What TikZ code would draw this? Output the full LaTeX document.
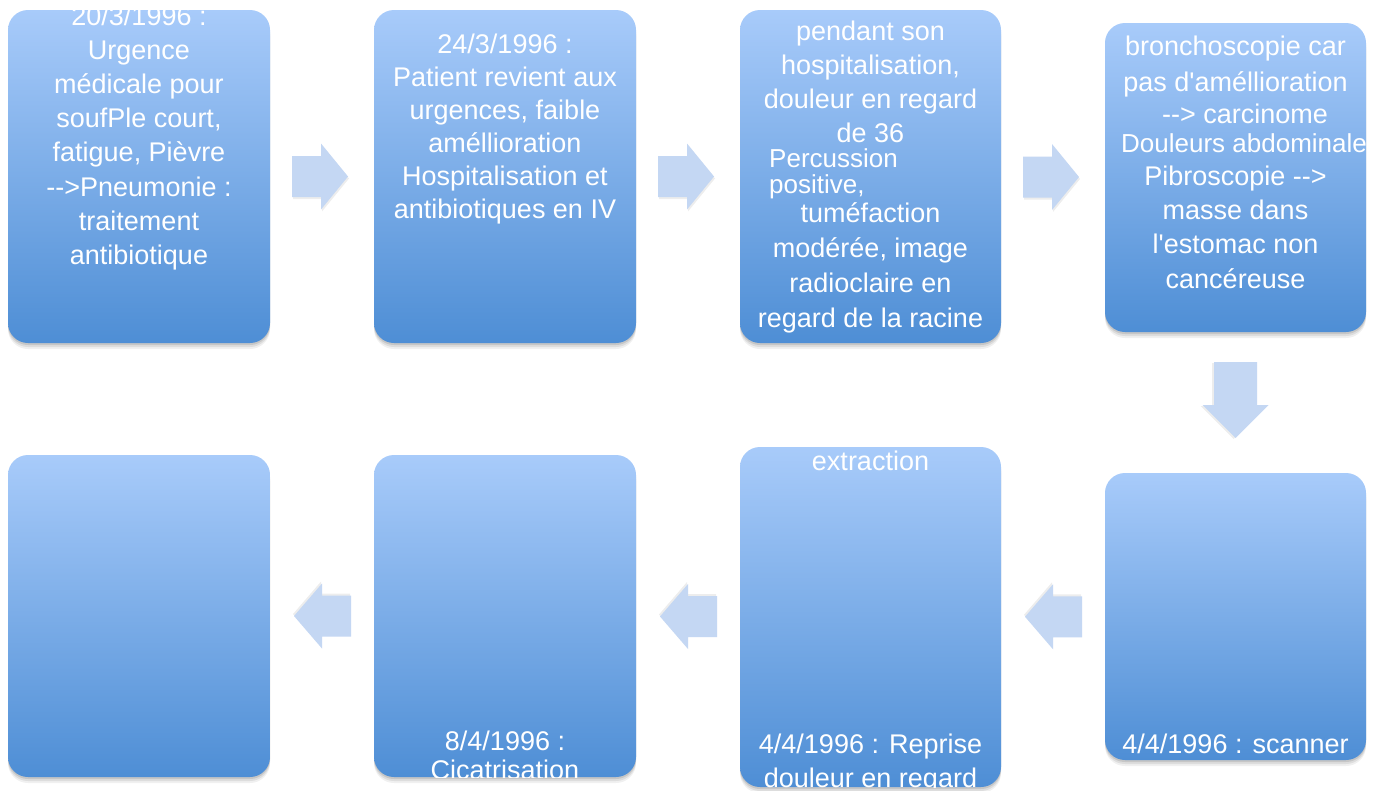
\documentclass[tikz,border=0pt]{standalone}
\usepackage{fontspec}
\newfontfamily\arialx{Liberation Sans}
\usetikzlibrary{calc,shadows}
\definecolor{btop}{RGB}{168,203,250}
\definecolor{bbot}{RGB}{78,142,213}
\definecolor{arrc}{RGB}{196,215,243}
\newcommand\arr{-\kern0pt-\kern0pt>}
\tikzset{
  boxst/.style={rounded corners=20pt, top color=btop, bottom color=bbot, inner sep=0pt, draw=none,
    drop shadow={shadow xshift=0pt, shadow yshift=-2pt, opacity=.10, fill=black},
    drop shadow={shadow xshift=0pt, shadow yshift=-4pt, opacity=.08, fill=black},
    drop shadow={shadow xshift=0pt, shadow yshift=-6pt, opacity=.06, fill=black}},
  txt/.style={text=white, font=\arialx\fontsize{27}{34}\selectfont, inner sep=0pt, anchor=base},
  txts/.style={txt, font=\arialx\fontsize{26}{30}\selectfont, anchor=base west},
  arrowst/.style={fill=arrc},
  arrowsh/.style={fill=black, opacity=.07}
}
\newcommand\barrow[6]{%
  \begin{scope}[shift={#1}, rotate=#2]
    \fill[arrowsh] (-#3+1,-#5+2) -- (#3-#4+1,-#5+2) -- (#3-#4+1,-#6+2) -- (#3+1,2) -- (#3-#4+1,#6+2) -- (#3-#4+1,#5+2) -- (-#3+1,#5+2) -- cycle;
    \fill[arrowst] (-#3,-#5) -- (#3-#4,-#5) -- (#3-#4,-#6) -- (#3,0) -- (#3-#4,#6) -- (#3-#4,#5) -- (-#3,#5) -- cycle;
  \end{scope}}
\begin{document}
\begin{tikzpicture}[x=1pt,y=-1pt]
\fill[white] (0,0) rectangle (1383,790);
\useasboundingbox (0,0) rectangle (1383,790);

% boxes
\node[boxst, minimum width=262pt, minimum height=333pt] (b1) at (139,176.5) {};
\node[boxst, minimum width=262pt, minimum height=333pt] (b2) at (505,176.5) {};
\node[boxst, minimum width=261pt, minimum height=333pt] (b3) at (870.5,176.5) {};
\node[boxst, minimum width=261pt, minimum height=309pt] (b4) at (1235.5,177.5) {};
\node[boxst, minimum width=261pt, minimum height=287pt] (b5) at (1235.5,616.5) {};
\node[boxst, minimum width=261pt, minimum height=340pt] (b6) at (870.5,617) {};
\node[boxst, minimum width=262pt, minimum height=322pt] (b7) at (505,616) {};
\node[boxst, minimum width=262pt, minimum height=322pt] (b8) at (139,616) {};

% texts box 1
\begin{scope}
\clip[rounded corners=20pt] (b1.north west) rectangle (b1.south east);
\foreach \l [count=\i] in {{20/3/1996 :},{Urgence},{médicale pour},{soufPle court,},{fatigue, Pièvre},{\arr Pneumonie :},{traitement},{antibiotique}}
  \node[txt] (t1-\i) at (139,{25+34.2*(\i-1)}) {\l};
\end{scope}

% box 2
\begin{scope}
\clip[rounded corners=20pt] (b2.north west) rectangle (b2.south east);
\foreach \l [count=\i] in {{24/3/1996 :},{Patient revient aux},{urgences, faible},{améllioration},{Hospitalisation et},{antibiotiques en IV}}
  \node[txt] (t2-\i) at (505,{53+33*(\i-1)}) {\l};
\end{scope}

% box 3
\begin{scope}
\clip[rounded corners=20pt] (b3.north west) rectangle (b3.south east);
\foreach \l [count=\i] in {{pendant son},{hospitalisation,},{douleur en regard},{de 36}}
  \node[txt] (t3a-\i) at (870.5,{40+34*(\i-1)}) {\l};
\node[txts] (t3b-1) at (769,167) {Percussion};
\node[txts] (t3b-2) at (769,193) {positive,};
\foreach \l [count=\i] in {{tuméfaction},{modérée, image},{radioclaire en},{regard de la racine}}
  \node[txt] (t3c-\i) at (870.5,{222+35.3*(\i-1)}) {\l};
\end{scope}

% box 4
\begin{scope}
\clip[rounded corners=20pt] (b4.north west) rectangle (b4.south east);
\node[txt] (t4a-1) at (1235.5,55) {bronchoscopie car};
\node[txt] (t4a-2) at (1235.5,91) {pas d'améllioration};
\node[txt] (t4a-3) at (1245,123) {\arr{} carcinome};
\node[txts] (t4b-1) at (1121,152) {Douleurs abdominale};
\foreach \l [count=\i] in {{Pibroscopie \arr},{masse dans},{l'estomac non},{cancéreuse}}
  \node[txt] (t4c-\i) at (1235.5,{185+34.4*(\i-1)}) {\l};
\end{scope}

% box 5
\begin{scope}
\clip[rounded corners=20pt] (b5.north west) rectangle (b5.south east);
\node[txt] (t5-1) at (1235.5,753) {4/4/1996 : scanner};
\end{scope}

% box 6
\begin{scope}
\clip[rounded corners=20pt] (b6.north west) rectangle (b6.south east);
\node[txt] (t6-1) at (870.5,470) {extraction};
\node[txt] (t6-2) at (870.5,753) {4/4/1996 : Reprise};
\node[txt] (t6-3) at (870.5,787) {douleur en regard};
\end{scope}

% box 7
\begin{scope}
\clip[rounded corners=20pt] (b7.north west) rectangle (b7.south east);
\node[txt] (t7-1) at (505,750) {8/4/1996 :};
\node[txt] (t7-2) at (505,779) {Cicatrisation};
\end{scope}

% block arrows
\coordinate (a1) at ($(b1.east)!0.5!(b2.west)+(-2,0)$);
\coordinate (a2) at ($(b2.east)!0.5!(b3.west)+(-2,0)$);
\coordinate (a3) at ($(b3.east)!0.5!(b4.west)+(-2,0)$);
\coordinate (a4) at ($(b4.south)!0.5!(b5.north)+(0,-2.5)$);
\coordinate (a5) at ($(b5.west)!0.5!(b6.east)+(0.5,0)$);
\coordinate (a6) at ($(b6.west)!0.5!(b7.east)+(0.5,0)$);
\coordinate (a7) at ($(b7.west)!0.5!(b8.east)+(0.5,0)$);
\barrow{(a1)}{0}{28}{27}{20.5}{33}
\barrow{(a2)}{0}{28}{27}{20.5}{33}
\barrow{(a3)}{0}{28}{27}{20.5}{33}
\barrow{(a4)}{-90}{38}{33}{21.5}{33}
\barrow{(a5)}{180}{28.5}{28}{20.5}{32.5}
\barrow{(a6)}{180}{28.5}{28}{20.5}{32.5}
\barrow{(a7)}{180}{28.5}{28}{20.5}{32.5}
\end{tikzpicture}
\end{document}
